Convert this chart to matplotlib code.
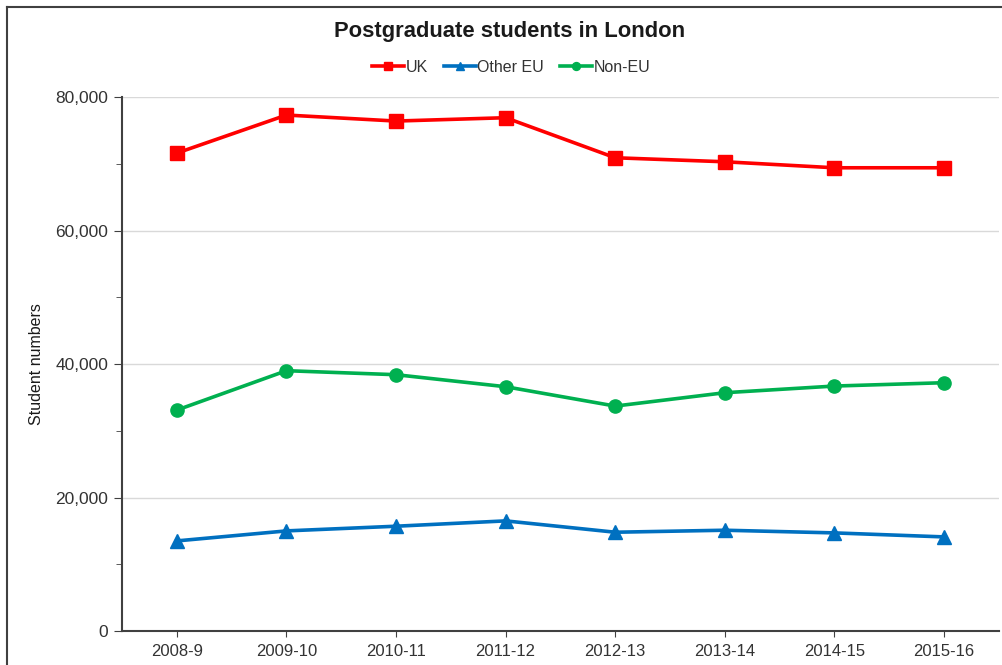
import matplotlib
matplotlib.use("Agg")
import matplotlib.pyplot as plt
from matplotlib.ticker import FuncFormatter, MultipleLocator
from matplotlib.lines import Line2D

years = ["2008-9", "2009-10", "2010-11", "2011-12", "2012-13", "2013-14", "2014-15", "2015-16"]
uk = [71600, 77300, 76400, 76900, 70900, 70300, 69400, 69400]
other_eu = [13500, 15000, 15700, 16500, 14800, 15100, 14700, 14100]
non_eu = [33100, 39000, 38400, 36600, 33700, 35700, 36700, 37200]

plt.rcParams['font.family'] = ['Liberation Sans', 'DejaVu Sans']

fig = plt.figure(figsize=(10.02, 6.65), dpi=100)
ax = fig.add_axes([0.1218, 0.0511, 0.875, 0.803])

x = list(range(len(years)))
ax.plot(x, uk, color='#FF0000', lw=2.6, marker='s', ms=9.5, label='UK')
ax.plot(x, other_eu, color='#0070C0', lw=2.6, marker='^', ms=9.5, label='Other EU')
ax.plot(x, non_eu, color='#00B050', lw=2.6, marker='o', ms=9.5, label='Non-EU')

ax.set_xlim(-0.5, len(years) - 0.5)
ax.set_ylim(0, 80000)
ax.yaxis.set_major_locator(MultipleLocator(20000))
ax.yaxis.set_minor_locator(MultipleLocator(10000))
ax.yaxis.set_major_formatter(FuncFormatter(lambda v, p: f"{int(v):,}"))
ax.set_xticks(x)
ax.set_xticklabels(years)
ax.grid(axis='y', color='#d9d9d9', lw=1)
ax.set_axisbelow(True)
for s in ['top', 'right']:
    ax.spines[s].set_visible(False)
for s in ['left', 'bottom']:
    ax.spines[s].set_color('#404040')
    ax.spines[s].set_linewidth(1.5)
ax.tick_params(axis='both', which='both', direction='out', color='#404040', labelcolor='#333333')
ax.tick_params(axis='y', which='major', length=6, pad=4, labelsize=12.5)
ax.tick_params(axis='y', which='minor', length=4)
ax.tick_params(axis='x', length=4, pad=5, labelsize=12)
ax.set_ylabel('Student numbers', fontsize=11.5, labelpad=8, color='#1a1a1a')

fig.text(0.509, 0.953, 'Postgraduate students in London', ha='center', va='center',
         fontsize=15.8, fontweight='bold', color='#1a1a1a')
leg = fig.legend(loc='center', bbox_to_anchor=(0.51, 0.899), ncol=3, frameon=False,
                 fontsize=11.5, handlelength=2.0, handletextpad=0.1, columnspacing=1.0,
                 markerscale=0.6)
for t in leg.get_texts():
    t.set_color('#333333')
fig.add_artist(Line2D([0.007, 1.0], [0.9895, 0.9895], transform=fig.transFigure,
                      color='#404040', lw=1.5))
fig.add_artist(Line2D([0.007, 0.007], [0.0, 0.9895], transform=fig.transFigure,
                      color='#404040', lw=1.5))

fig.savefig('out.png', dpi=100)
